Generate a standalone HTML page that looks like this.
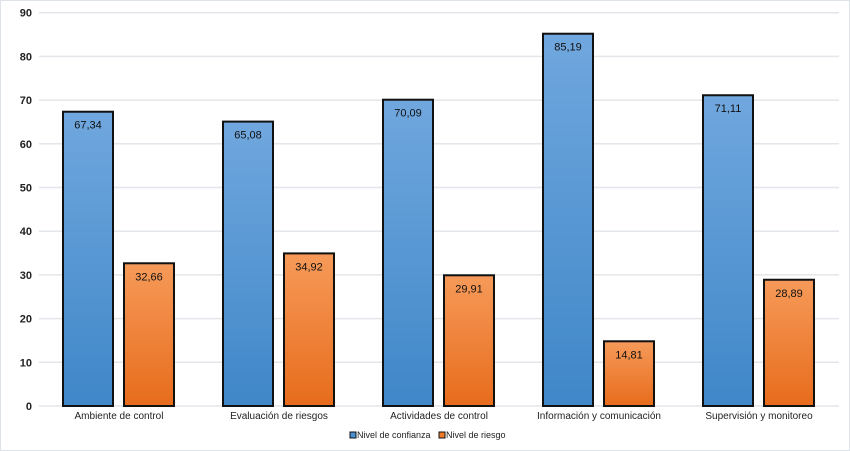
<!DOCTYPE html>
<html><head><meta charset="utf-8"><style>
body{margin:0;background:#fff;}
svg{display:block;font-family:"Liberation Sans",Arial,sans-serif;}
</style></head><body>
<svg id="c" width="850" height="451">
<defs>
<linearGradient id="gb" x1="0" y1="0" x2="0" y2="1"><stop offset="0" stop-color="#70a7de"/><stop offset="1" stop-color="#3f87c8"/></linearGradient>
<linearGradient id="go" x1="0" y1="0" x2="0" y2="1"><stop offset="0" stop-color="#f69a59"/><stop offset="1" stop-color="#e76c1c"/></linearGradient>
</defs>
<rect x="0.5" y="0.5" width="849" height="450" fill="#fff" stroke="#dde3e8"/>
</svg>
<script>
const categories=["Ambiente de control","Evaluación de riesgos","Actividades de control","Información y comunicación","Supervisión y monitoreo"];
const confianza=[67.34,65.08,70.09,85.19,71.11];
const riesgo=[32.66,34.92,29.91,14.81,28.89];
const yTicks=[0,10,20,30,40,50,60,70,80,90];
const svg=document.getElementById('c');
const NS='http://www.w3.org/2000/svg';
const x0=39,x1=839,y0=406,yTop=12.7,yMax=90;
const y=v=>y0-(v/yMax)*(y0-yTop);
const band=(x1-x0)/categories.length;
function mk(t,a,txt){const e=document.createElementNS(NS,t);for(const k in a)e.setAttribute(k,a[k]);if(txt!==undefined)e.textContent=txt;svg.appendChild(e);return e;}
yTicks.forEach(t=>{
 const g=mk('line',{x1:x0,x2:x1,y1:y(t),y2:y(t),stroke:'#e3e6ea','stroke-width':1.5});
 
 
 const l=mk('text',{x:32,y:y(t)+4,'text-anchor':'end','font-size':11,'font-weight':'bold',fill:'#222'},t);
 
 
});
categories.forEach((c,i)=>{
 const cx=x0+band*(i+0.5);
 const bx=cx-56,ox=cx+5,w=50;
 const b=mk('rect',{x:bx,y:y(confianza[i]),width:w,height:y0-y(confianza[i]),fill:'url(#gb)',stroke:'#111','stroke-width':2});
 
 
 const o=mk('rect',{x:ox,y:y(riesgo[i]),width:w,height:y0-y(riesgo[i]),fill:'url(#go)',stroke:'#111','stroke-width':2});
 
 
 const bl=mk('text',{x:bx+w/2,y:y(confianza[i])+17,'text-anchor':'middle','font-size':11,fill:'#111'},confianza[i].toFixed(2).replace('.',','));
 
 
 const ol=mk('text',{x:ox+w/2,y:y(riesgo[i])+17,'text-anchor':'middle','font-size':11,fill:'#111'},riesgo[i].toFixed(2).replace('.',','));
 
 
 const cl=mk('text',{x:cx,y:419,'text-anchor':'middle','font-size':10,fill:'#222'},c);
 
 
});
const lg=[["Nivel de confianza","#4a8fd0",350],["Nivel de riesgo","#ee7a2a",439]];
lg.forEach(([t,col,lx])=>{
 const s=mk('rect',{x:lx,y:432,width:6,height:6,fill:col,stroke:'#111','stroke-width':1});
 
 
 const tx=mk('text',{x:lx+7,y:438,'font-size':9,fill:'#222'},t);
 
 
});
</script>
</body></html>
